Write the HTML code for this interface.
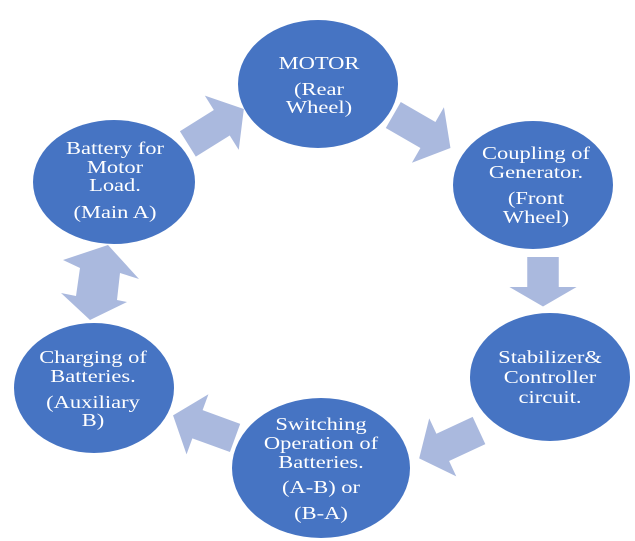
<!DOCTYPE html>
<html><head><meta charset="utf-8"><style>
html,body{margin:0;padding:0;background:#fff;}
svg{display:block;}
text{font-family:"Liberation Serif",serif;font-size:18px;fill:#fff;text-anchor:middle;}
</style></head><body>
<svg width="635" height="541" viewBox="0 0 635 541" xmlns="http://www.w3.org/2000/svg">
<defs>
<polygon id="arr" points="-32,-15 8,-15 8,-32 34,0 8,32 8,15 -32,15" fill="#aab9de"/>
</defs>
<ellipse cx="318" cy="84" rx="80" ry="64" fill="#4674c3"/>
<ellipse cx="114" cy="182" rx="81" ry="62" fill="#4674c3"/>
<ellipse cx="533" cy="185" rx="80" ry="64" fill="#4674c3"/>
<ellipse cx="94" cy="388" rx="80" ry="65" fill="#4674c3"/>
<ellipse cx="550" cy="377" rx="80" ry="64" fill="#4674c3"/>
<ellipse cx="321" cy="468" rx="89" ry="70" fill="#4674c3"/>

<use href="#arr" transform="translate(215,127) rotate(-32)"/>
<use href="#arr" transform="translate(421,131) rotate(30)"/>
<use href="#arr" transform="translate(543,281) rotate(90) scale(0.75,1.05)"/>
<use href="#arr" transform="translate(450,444) rotate(155)"/>
<use href="#arr" transform="translate(205,427) rotate(200)"/>
<polygon points="108,245 139,279 120,273 117,300 127,302 90,320 61,293 76,296 80,268 63,260" fill="#aab9de"/>

<g transform="translate(319,0) scale(1.25,1)"><text x="0" y="69">MOTOR</text><text x="0" y="95">(Rear</text><text x="0" y="113">Wheel)</text></g>
<g transform="translate(115,0) scale(1.25,1)"><text x="0" y="154">Battery for</text><text x="0" y="173">Motor</text><text x="0" y="191">Load.</text><text x="0" y="218">(Main A)</text></g>
<g transform="translate(536,0) scale(1.25,1)"><text x="0" y="159">Coupling of</text><text x="0" y="178">Generator.</text><text x="0" y="204">(Front</text><text x="0" y="223">Wheel)</text></g>
<g transform="translate(93,0) scale(1.25,1)"><text x="0" y="363">Charging of</text><text x="0" y="382">Batteries.</text><text x="0" y="408">(Auxiliary</text><text x="0" y="426">B)</text></g>
<g transform="translate(550,0) scale(1.25,1)"><text x="0" y="363">Stabilizer&amp;</text><text x="0" y="383">Controller</text><text x="0" y="403">circuit.</text></g>
<g transform="translate(321,0) scale(1.25,1)"><text x="0" y="430">Switching</text><text x="0" y="449">Operation of</text><text x="0" y="468">Batteries.</text><text x="0" y="493">(A-B) or</text><text x="0" y="519">(B-A)</text></g>
</svg>
</body></html>
